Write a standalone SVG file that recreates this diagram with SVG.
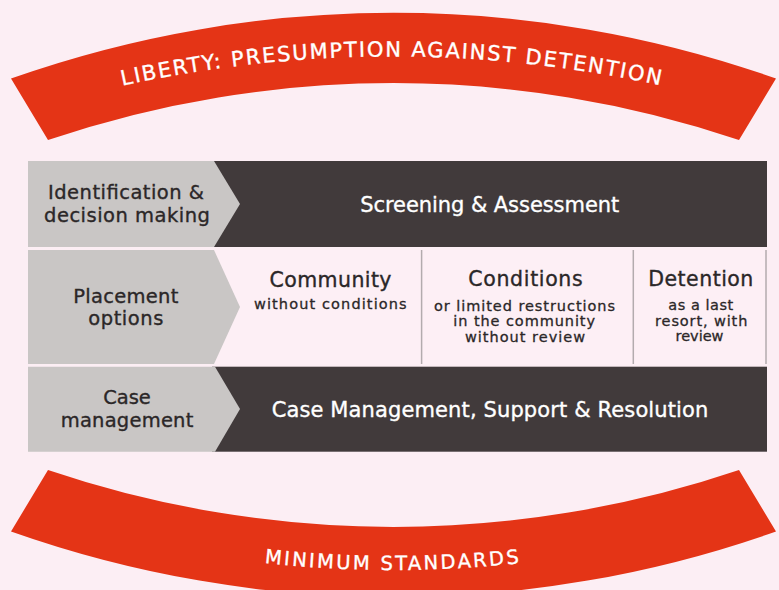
<svg xmlns="http://www.w3.org/2000/svg" width="779" height="590" viewBox="0 0 779 590">
<style>
.bg{fill:#FCEEF4}
.red{fill:#E43416}
.gray{fill:#C9C6C5}
.dark{fill:#413A3B}
.cell{fill:#FDEFF5}
.div{stroke:#B3ABAE;stroke-width:1.5;fill:none}
text{font-family:"DejaVu Sans","Liberation Sans",sans-serif}
.lbl{font-size:19.5px;fill:#2B2728;stroke:#2B2728;stroke-width:0.35;text-anchor:middle}
.hd{font-size:20.5px;fill:#2B2728;stroke:#2B2728;stroke-width:0.35;text-anchor:middle}
.sub{font-size:14.5px;fill:#2B2728;stroke:#2B2728;stroke-width:0.3;text-anchor:middle}
.wt{font-size:21px;fill:#FFFFFF;stroke:#FFFFFF;stroke-width:0.35;text-anchor:middle}
.arc{font-size:21px;fill:#FFFFFF;stroke:#FFFFFF;stroke-width:0.35;text-anchor:middle}
</style>
<defs>
<path id="topPath" d="M52,103.2 A1260,1260 0 0 1 732,103.2"/>
<path id="botPath" d="M53,520.8 A1200,1200 0 0 0 733,520.8"/>
</defs>
<rect class="bg" x="0" y="0" width="779" height="590"/>

<g id="liberty-arc">
<path class="red" d="M11,78.5 A1147,1147 0 0 1 776,78.5 L739,140 A1077,1077 0 0 0 48,140 Z"/>
<text class="arc" letter-spacing="1.8"><textPath href="#topPath" startOffset="50%">LIBERTY: PRESUMPTION AGAINST DETENTION</textPath></text>
</g>

<g id="standards-arc">
<path class="red" d="M48,470 A1077,1077 0 0 0 739,470 L776,531.5 A1147,1147 0 0 1 11,531.5 Z"/>
<text class="arc" style="font-size:19.5px" letter-spacing="2.4"><textPath href="#botPath" startOffset="50%">MINIMUM STANDARDS</textPath></text>
</g>

<g id="screening">
<rect class="dark" x="212" y="161" width="555" height="86"/>
<text class="wt" x="489.7" y="211.7" textLength="259">Screening &amp; Assessment</text>
</g>
<g id="identification">
<polygon class="gray" points="28,161 214,161 240,204 214,247 28,247"/>
<text class="lbl" x="126" y="199" textLength="156">Identification &amp;</text>
<text class="lbl" x="127" y="221.7" textLength="166">decision making</text>
</g>

<g id="placement-options">
<rect class="cell" x="214" y="250" width="552" height="114"/>
<line class="div" x1="421.6" y1="250" x2="421.6" y2="364"/>
<line class="div" x1="633.3" y1="250" x2="633.3" y2="364"/>
<line class="div" x1="766" y1="250" x2="766" y2="364"/>
</g>
<g id="placement">
<polygon class="gray" points="28,250 214,250 240,307 214,364 28,364"/>
<text class="lbl" x="125.8" y="302.7" textLength="105">Placement</text>
<text class="lbl" x="125.8" y="325" textLength="75">options</text>
</g>
<g id="community">
<text class="hd" x="330.5" y="286.7" textLength="122">Community</text>
<text class="sub" x="330.3" y="309.3" textLength="152.7">without conditions</text>
</g>
<g id="conditions">
<text class="hd" x="525.5" y="286" textLength="114.4">Conditions</text>
<text class="sub" x="524.5" y="310.5" textLength="181">or limited restructions</text>
<text class="sub" x="524.2" y="326" textLength="141.7">in the community</text>
<text class="sub" x="525" y="341.5" textLength="120">without review</text>
</g>
<g id="detention">
<text class="hd" x="700.8" y="285.5" textLength="105">Detention</text>
<text class="sub" x="700.8" y="310" textLength="65">as a last</text>
<text class="sub" x="701.2" y="325.5" textLength="92.3">resort, with</text>
<text class="sub" x="699.5" y="341">review</text>
</g>

<g id="case-resolution">
<rect class="dark" x="212" y="366.7" width="555" height="85"/>
<text class="wt" x="490" y="416.7" textLength="436.7">Case Management, Support &amp; Resolution</text>
</g>
<g id="case-management">
<polygon class="gray" points="28,366.7 215,366.7 240,409 215,451.7 28,451.7"/>
<text class="lbl" x="127" y="404.3" textLength="47.3">Case</text>
<text class="lbl" x="127" y="426.7" textLength="132.7">management</text>
</g>
</svg>
